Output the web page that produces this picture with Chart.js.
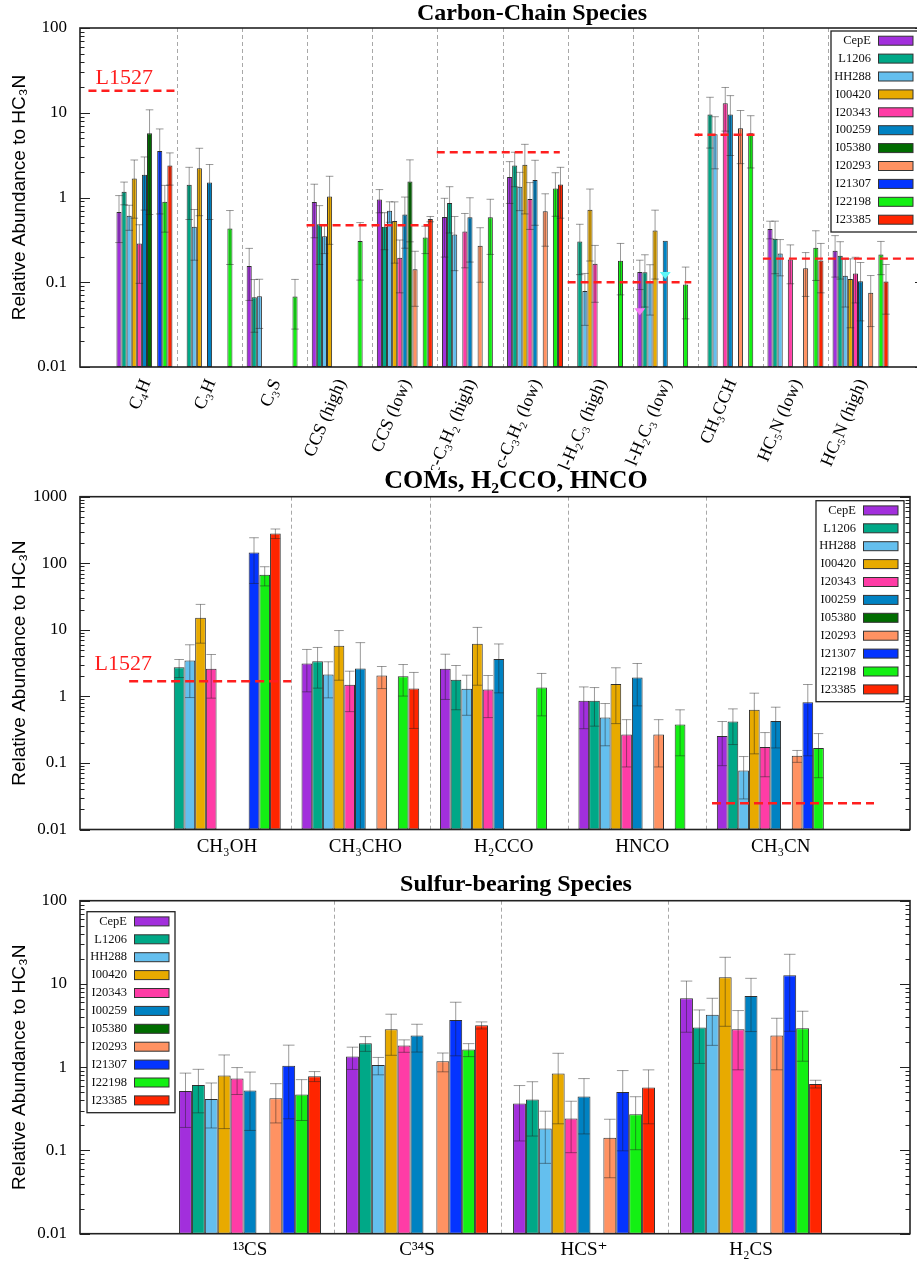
<!DOCTYPE html>
<html><head><meta charset="utf-8">
<script src="https://cdn.jsdelivr.net/npm/chart.js@4.4.0/dist/chart.umd.min.js"></script>
<style>
html,body{margin:0;padding:0;background:#fff;overflow:hidden;width:917px;height:1262px;position:relative;}
.panel{position:absolute;left:0;}
canvas{display:block;}
</style></head><body>
<div class="panel" style="top:0px"><canvas id="c1" width="1064" height="470"></canvas></div>
<div class="panel" style="top:466px"><canvas id="c2" width="1032" height="402"></canvas></div>
<div class="panel" style="top:868px"><canvas id="c3" width="1032" height="394"></canvas></div>
<script>
// ---------------- DATA ----------------
const sources = ['CepE','L1206','HH288','I00420','I20343','I00259','I05380','I20293','I21307','I22198','I23385'];

// Carbon-chain species
const carbonCategories = ['C₄H','C₃H','C₃S','CCS (high)','CCS (low)','c-C₃H₂ (high)','c-C₃H₂ (low)','l-H₂C₃ (high)','l-H₂C₃ (low)','CH₃CCH','HC₅N (low)','HC₅N (high)'];
const carbonValues = [
  [0.674, null, 0.156, 0.885, 0.95, 0.588, 1.75, null, 0.132, null, 0.425, 0.235],
  [1.17, 1.41, 0.0667, 0.482, 0.452, 0.861, 2.38, 0.303, 0.131, 9.53, 0.326, 0.205],
  [0.61, 0.452, 0.0685, 0.348, 0.70, 0.367, 1.34, 0.079, 0.101, 5.58, 0.219, 0.119],
  [1.67, 2.21, null, 1.03, 0.528, null, 2.44, 0.718, 0.409, null, null, 0.109],
  [0.287, null, null, null, 0.195, 0.398, 0.96, 0.165, null, 12.97, 0.186, 0.127],
  [1.86, 1.50, null, null, 0.632, 0.583, 1.61, null, 0.309, 9.53, null, 0.103],
  [5.73, null, null, null, 1.54, null, null, null, null, null, null, null],
  [null, null, null, null, 0.142, 0.27, 0.686, null, null, 6.57, 0.146, 0.075],
  [3.54, null, null, null, null, null, null, null, null, null, null, null],
  [0.89, 0.432, 0.068, 0.306, 0.338, 0.583, 1.28, 0.179, 0.094, 5.73, 0.255, 0.213],
  [2.38, null, null, null, 0.557, null, 1.42, null, null, null, 0.181, 0.102]
];
const carbonErrors = [
  [0.38, null, 0.095, 0.55, 0.29, 0.39, 0.9, null, 0.05, null, 0.1, 0.12],
  [0.35, 0.86, 0.041, 0.32, 0.21, 0.48, 1.04, 0.18, 0.08, 5.7, 0.2, 0.096],
  [0.2, 0.27, 0.04, 0.13, 0.19, 0.23, 0.64, 0.048, 0.06, 3.4, 0.1, 0.068],
  [1.1, 1.6, null, 0.75, 0.36, null, 1.8, 0.54, 0.3, null, null, 0.08],
  [0.19, null, null, null, 0.12, 0.25, 0.54, 0.107, null, 6.9, 0.09, 0.07],
  [1.15, 0.95, null, null, 0.38, 0.41, 1.14, null, null, 6.4, null, 0.068],
  [5.1, null, null, null, 1.24, null, null, null, null, null, null, null],
  [null, null, null, null, 0.09, 0.17, 0.42, null, null, 4.06, 0.078, 0.045],
  [2.9, null, null, null, null, null, null, null, null, null, null, null],
  [0.5, 0.27, 0.04, 0.2, 0.12, 0.37, 0.68, 0.108, 0.057, 3.5, 0.15, 0.09],
  [0.98, null, null, null, 0.04, null, 0.85, null, null, null, 0.106, 0.06]
];
const carbonL1527 = [18.2, 0.47, 3.42, 0.10, 5.5, 0.19];
const carbonLimitSources = ['CepE', 'I00259'];
const carbonLimitCategories = ['l-H₂C₃ (low)', 'l-H₂C₃ (low)'];
const carbonLimitValues = [0.045, 0.12];

// COMs, H2CCO, HNCO
const comCategories = ['CH₃OH','CH₃CHO','H₂CCO','HNCO','CH₃CN'];
const comValues = [
  [null, 3.12, 2.6, 0.857, 0.255],
  [2.75, 3.38, 1.77, 0.857, 0.419],
  [3.46, 2.13, 1.30, 0.481, 0.0768],
  [15.2, 5.75, 6.17, 1.54, 0.627],
  [2.6, 1.49, 1.27, 0.267, 0.174],
  [null, 2.62, 3.63, 1.92, 0.428],
  [null, null, null, null, null],
  [null, 2.06, null, 0.267, 0.128],
  [145.7, null, null, null, 0.818],
  [67.2, 2.01, 1.36, 0.378, 0.168],
  [281, 1.31, null, null, null]
];
const comErrors = [
  [null, 1.95, 1.7, 0.53, 0.164],
  [0.83, 2.05, 1.14, 0.5, 0.23],
  [2.5, 1.18, 0.78, 0.3, 0.048],
  [8.9, 4.0, 4.7, 1.15, 0.49],
  [1.66, 0.9, 0.79, 0.18, 0.112],
  [null, 3.8, 2.5, 1.2, 0.26],
  [null, null, null, null, null],
  [null, 0.75, null, 0.18, 0.026],
  [96, null, null, null, 0.69],
  [21.5, 1.0, 0.85, 0.25, 0.108],
  [46, 0.98, null, null, null]
];
const comL1527 = [1.69, 0.0248];

// Sulfur-bearing species
const sulfurCategories = ['¹³CS','C³⁴S','HCS⁺','H₂CS'];
const sulfurValues = [
  [0.519, 1.34, 0.366, 6.73],
  [0.613, 1.94, 0.409, 2.99],
  [0.416, 1.06, 0.183, 4.28],
  [0.793, 2.86, 0.839, 12.0],
  [0.73, 1.82, 0.242, 2.86],
  [0.524, 2.40, 0.444, 7.18],
  [null, null, null, null],
  [0.424, 1.18, 0.142, 2.40],
  [1.04, 3.70, 0.505, 12.7],
  [0.469, 1.63, 0.272, 2.94],
  [0.779, 3.19, 0.569, 0.63]
];
const sulfurErrors = [
  [0.33, 0.4, 0.236, 4.1],
  [0.33, 0.39, 0.26, 1.88],
  [0.23, 0.25, 0.113, 2.45],
  [0.61, 1.47, 0.63, 8.9],
  [0.26, 0.31, 0.148, 1.93],
  [0.35, 0.88, 0.286, 4.5],
  [null, null, null, null],
  [0.21, 0.3, 0.095, 1.47],
  [0.8, 2.33, 0.406, 10],
  [0.24, 0.29, 0.17, 1.76],
  [0.107, 0.31, 0.36, 0.067]
];

// ---------------- STYLE / LAYOUT ----------------
const SERIF = "'Liberation Serif','DejaVu Serif','Times New Roman',serif";
const SANS = "'Liberation Sans','DejaVu Sans',Arial,sans-serif";
const sourceColors = ['#a22fdc','#00a887','#64bfee','#e8aa00','#ff3ca6','#0082c2','#006c00','#ff9262','#0434ff','#13f013','#ff2500'];
const limitColors = {CepE:'#f47cf4', I00259:'#5ef7f7'};

const layouts = {
  c1: {xMin:-0.99, xMax:11.99, catPct:0.86, yMin:0.01, yMax:100, rightW:139, titleSize:24, titlePad:{top:2,bottom:2}, xH:103,
       l1527Spans:[[-0.86,0.48],[2.49,4.38],[4.49,6.38],[6.5,8.4],[8.45,9.44],[9.5,12.0]], l1527Label:{x:-0.75,y:25.9},
       legend:{side:'right', dx:94, dy:3}, rot:67, tickFont:18, tickPad:9, labelOffset:2, dash:[8,5]},
  c2: {xMin:-1.025, xMax:4.97, catPct:0.85, yMin:0.01, yMax:1000, rightW:122, titleSize:26, titlePad:{top:2,bottom:2.7}, xH:38.5,
       l1527Spans:[[-0.67,0.5],[3.54,4.71]], l1527Label:{x:-0.92,y:3.0},
       legend:{side:'right', dx:94, dy:4}, rot:0, tickFont:19, tickPad:6, labelOffset:5, dash:[9,5]},
  c3: {xMin:-1.018, xMax:3.952, catPct:0.85, yMin:0.01, yMax:100, rightW:122, titleSize:24, titlePad:{top:4.4,bottom:4.3}, xH:28.3,
       legend:{side:'left', dx:7, dy:11}, rot:0, tickFont:19, tickPad:5, labelOffset:0}
};

const panelData = {
  c1: {title:'Carbon-Chain Species', cats:carbonCategories, values:carbonValues, errors:carbonErrors, l1527:carbonL1527,
       limits: carbonLimitSources.map((s,i)=>({source:s, cat:carbonLimitCategories[i], value:carbonLimitValues[i]}))},
  c2: {title:'COMs, H₂CCO, HNCO', cats:comCategories, values:comValues, errors:comErrors, l1527:comL1527, limits:[]},
  c3: {title:'Sulfur-bearing Species', cats:sulfurCategories, values:sulfurValues, errors:sulfurErrors, l1527:[], limits:[]}
};

function isDecade(v){ const l = Math.log10(v); return Math.abs(l - Math.round(l)) < 1e-9; }

const decorPlugin = {
  id: 'decor',
  beforeDatasetsDraw(chart) {
    const P = panelData[chart.canvas.id];
    const ctx = chart.ctx, a = chart.chartArea, xs = chart.scales.x;
    ctx.save();
    ctx.strokeStyle = '#a8a8a8'; ctx.lineWidth = 1; ctx.setLineDash([4,3]);
    for (let i = 0; i < P.cats.length - 1; i++) {
      const px = Math.round(xs.getPixelForValue(i + 0.5)) + 0.5;
      ctx.beginPath(); ctx.moveTo(px, a.top); ctx.lineTo(px, a.bottom); ctx.stroke();
    }
    ctx.restore();
  },
  afterDatasetsDraw(chart) {
    const id = chart.canvas.id, L = layouts[id], P = panelData[id];
    const ctx = chart.ctx, a = chart.chartArea, xs = chart.scales.x, ys = chart.scales.y;
    // error bars
    ctx.save();
    ctx.strokeStyle = 'rgba(30,30,30,0.45)'; ctx.lineWidth = 1;
    chart.data.datasets.forEach((ds, di) => {
      const meta = chart.getDatasetMeta(di);
      meta.data.forEach((bar, i) => {
        const v = P.values[di][i], e = P.errors[di][i];
        if (v == null || e == null || !e) return;
        const top = ys.getPixelForValue(v + e);
        const lo = v - e;
        const bot = lo > 0 ? Math.min(ys.getPixelForValue(lo), a.bottom) : a.bottom;
        const hw = Math.max(bar.width * 0.45, 3.8);
        ctx.beginPath();
        ctx.moveTo(bar.x, top); ctx.lineTo(bar.x, bot);
        ctx.stroke();
        ctx.beginPath();
        ctx.moveTo(bar.x - hw, top); ctx.lineTo(bar.x + hw, top);
        if (lo > 0) { ctx.moveTo(bar.x - hw, bot); ctx.lineTo(bar.x + hw, bot); }
        ctx.stroke();
      });
    });
    ctx.restore();
    // upper-limit triangles
    ctx.save();
    P.limits.forEach(lim => {
      const di = sources.indexOf(lim.source), ci = P.cats.indexOf(lim.cat);
      const bar = chart.getDatasetMeta(di).data[ci];
      const px = bar.x, py = ys.getPixelForValue(lim.value);
      ctx.fillStyle = limitColors[lim.source];
      ctx.beginPath(); ctx.moveTo(px - 5.5, py - 3.5); ctx.lineTo(px + 5.5, py - 3.5); ctx.lineTo(px, py + 3.5); ctx.closePath(); ctx.fill();
    });
    ctx.restore();
    // L1527 reference lines
    if (P.l1527 && P.l1527.length) {
      ctx.save();
      ctx.strokeStyle = '#ff1e1e'; ctx.lineWidth = 2.4; ctx.setLineDash(L.dash);
      P.l1527.forEach((v, k) => {
        const sp = L.l1527Spans[k];
        const py = ys.getPixelForValue(v);
        ctx.beginPath(); ctx.moveTo(xs.getPixelForValue(sp[0]), py); ctx.lineTo(xs.getPixelForValue(sp[1]), py); ctx.stroke();
      });
      ctx.setLineDash([]);
      ctx.fillStyle = '#ff1e1e'; ctx.font = '22px ' + SERIF; ctx.textAlign = 'left'; ctx.textBaseline = 'middle';
      ctx.fillText('L1527', xs.getPixelForValue(L.l1527Label.x), ys.getPixelForValue(L.l1527Label.y));
      ctx.restore();
    }
  },
  afterDraw(chart) {
    const id = chart.canvas.id, L = layouts[id];
    const ctx = chart.ctx, a = chart.chartArea, ys = chart.scales.y;
    ctx.save();
    // inward ticks
    ctx.strokeStyle = '#222'; ctx.lineWidth = 1.2;
    const e0 = Math.round(Math.log10(L.yMin)), e1 = Math.round(Math.log10(L.yMax));
    for (let e = e0; e <= e1; e++) {
      for (let k = 1; k <= 9; k++) {
        const v = k * Math.pow(10, e);
        if (v > L.yMax * 1.0001) break;
        const py = Math.round(ys.getPixelForValue(v)) + 0.5;
        const len = k === 1 ? 10 : 4.5;
        ctx.beginPath();
        ctx.moveTo(a.left, py); ctx.lineTo(a.left + len, py);
        ctx.moveTo(a.right, py); ctx.lineTo(a.right - len, py);
        ctx.stroke();
      }
    }
    // frame
    ctx.lineWidth = 1.6; ctx.strokeStyle = '#222';
    ctx.strokeRect(a.left, a.top, a.right - a.left, a.bottom - a.top);
    // legend
    const G = L.legend, w = 88, h = 201;
    const left = G.side === 'right' ? a.right - G.dx : a.left + G.dx;
    const top = a.top + G.dy;
    ctx.fillStyle = '#fff'; ctx.fillRect(left, top, w, h);
    ctx.lineWidth = 1.3; ctx.strokeStyle = '#222'; ctx.strokeRect(left, top, w, h);
    ctx.font = '12.5px ' + SERIF; ctx.textAlign = 'right'; ctx.textBaseline = 'middle';
    chart.data.datasets.forEach((ds, i) => {
      const cy = top + 9.7 + i * 17.9;
      ctx.fillStyle = '#111'; ctx.fillText(ds.label, left + 40, cy);
      ctx.fillStyle = ds.backgroundColor; ctx.fillRect(left + 47, cy - 4.5, 35, 9);
      ctx.lineWidth = 1; ctx.strokeStyle = '#333'; ctx.strokeRect(left + 47.5, cy - 4.5, 34.5, 9);
    });
    ctx.restore();
  }
};

function makeChart(id) {
  const L = layouts[id], P = panelData[id];
  const datasets = sources.map((name, si) => ({
    label: name,
    data: P.values[si].map((v, i) => ({x: i, y: v})),
    backgroundColor: sourceColors[si],
    borderColor: 'rgba(25,25,25,0.9)',
    borderWidth: 1,
    borderSkipped: false,
    barPercentage: 1.0,
    categoryPercentage: L.catPct
  }));
  const canvas = document.getElementById(id);
  return new Chart(canvas, {
    type: 'bar',
    data: { datasets },
    plugins: [decorPlugin],
    options: {
      responsive: false, animation: false, devicePixelRatio: 1,
      layout: { padding: 0 },
      plugins: {
        legend: { display: false }, tooltip: { enabled: false },
        title: { display: true, text: P.title, color: '#000', align: 'center',
                 font: { family: SERIF, size: L.titleSize, weight: 'bold', lineHeight: 1 }, padding: L.titlePad }
      },
      scales: {
        x: {
          type: 'linear', min: L.xMin, max: L.xMax, offset: false,
          grid: { display: false, drawTicks: false }, border: { display: false },
          afterBuildTicks: s => { s.ticks = P.cats.map((c, i) => ({ value: i })); },
          afterFit: s => { s.height = L.xH; },
          ticks: {
            autoSkip: false, maxRotation: L.rot, minRotation: L.rot, padding: L.tickPad, labelOffset: L.labelOffset,
            color: '#000', font: { family: SERIF, size: L.tickFont },
            callback: v => (Number.isInteger(v) && P.cats[v] !== undefined) ? P.cats[v] : ''
          }
        },
        y: {
          type: 'logarithmic', position: 'left', min: L.yMin, max: L.yMax,
          grid: { display: false, drawTicks: false }, border: { display: false },
          afterFit: s => { s.width = 80; },
          ticks: { autoSkip: false, padding: 13, color: '#000', font: { family: SERIF, size: 17 },
                   callback: v => isDecade(v) ? String(+v.toPrecision(6)) : '' },
          title: { display: true, text: 'Relative Abundance to HC₃N', color: '#000',
                   font: { family: SANS, size: 19 }, padding: { top: 8, bottom: 0 } }
        },
        yR: {
          type: 'linear', position: 'right', display: true,
          grid: { display: false, drawTicks: false }, border: { display: false },
          ticks: { display: false },
          afterFit: s => { s.width = L.rightW; }
        }
      }
    }
  });
}
makeChart('c1'); makeChart('c2'); makeChart('c3');
</script>
</body></html>
